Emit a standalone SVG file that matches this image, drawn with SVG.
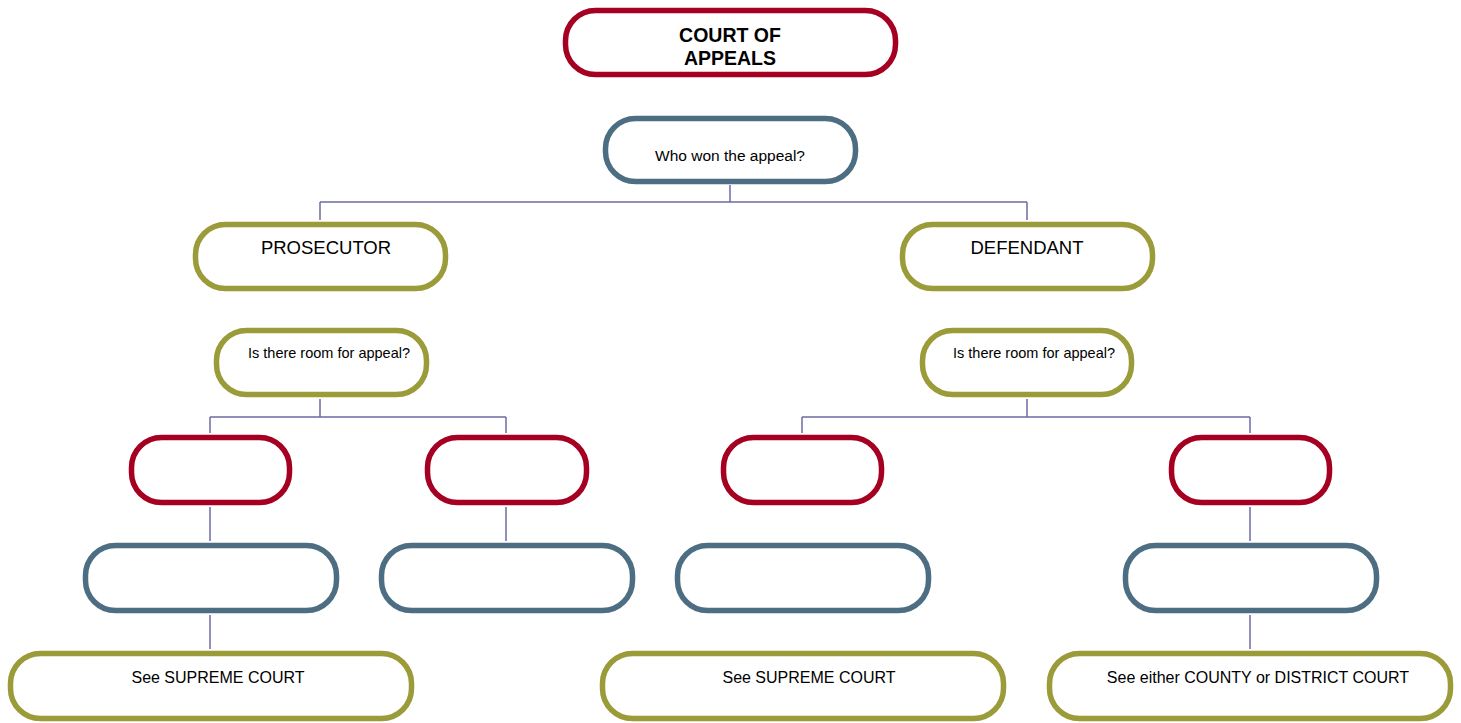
<svg xmlns="http://www.w3.org/2000/svg" width="1461" height="723" viewBox="0 0 1461 723">
<style>
.n{fill:#fff;stroke-width:5.5}
.r{stroke:#a50021}
.b{stroke:#4d6e82}
.o{stroke:#9b9b3a}
.c{fill:none;stroke:#6b6ba3;stroke-width:1.5}
text{font-family:"Liberation Sans",Arial,sans-serif;fill:#000;text-anchor:middle}
.t1{font-size:19.5px;font-weight:bold}
.t2{font-size:15.5px}
.t3{font-size:18.5px}
.t4{font-size:14.5px}
.t5{font-size:16px}
</style>
<rect width="1461" height="723" fill="#fff"/>
<g id="connectors">
<path class="c" d="M730,185V202M320,202H1027M320,202V220M1027,202V220"/>
<path class="c" d="M320,399V417M210,417H506M210,417V433M506,417V433"/>
<path class="c" d="M1027,399V417M802,417H1250M802,417V433M1250,417V433"/>
<path class="c" d="M210,507V541M210,615V649M506,507V541M1250,507V541M1250,615V649"/>
</g>
<g id="court"><rect class="n r" x="565.5" y="10.5" width="330" height="64" rx="30"/><text class="t1" x="730" y="42">COURT OF</text><text class="t1" x="730" y="65">APPEALS</text></g>
<g id="who"><rect class="n b" x="605.5" y="118.5" width="250" height="63" rx="30"/><text class="t2" x="730" y="161">Who won the appeal?</text></g>
<g id="prosecutor"><rect class="n o" x="195.5" y="224.5" width="250" height="64" rx="30"/><text class="t3" x="326" y="254">PROSECUTOR</text></g>
<g id="defendant"><rect class="n o" x="902.5" y="224.5" width="250" height="64" rx="30"/><text class="t3" x="1027" y="254">DEFENDANT</text></g>
<g id="room-left"><rect class="n o" x="216.5" y="330.5" width="210" height="64" rx="30"/><text class="t4" x="329" y="358">Is there room for appeal?</text></g>
<g id="room-right"><rect class="n o" x="922.5" y="330.5" width="209" height="64" rx="30"/><text class="t4" x="1034" y="358">Is there room for appeal?</text></g>
<g id="red1"><rect class="n r" x="131.5" y="437.5" width="158" height="65" rx="30"/></g>
<g id="red2"><rect class="n r" x="427.5" y="437.5" width="159" height="65" rx="30"/></g>
<g id="red3"><rect class="n r" x="723.5" y="437.5" width="158" height="65" rx="30"/></g>
<g id="red4"><rect class="n r" x="1171.5" y="437.5" width="158" height="65" rx="30"/></g>
<g id="blue1"><rect class="n b" x="85.5" y="545.5" width="251" height="65" rx="30"/></g>
<g id="blue2"><rect class="n b" x="381.5" y="545.5" width="251" height="65" rx="30"/></g>
<g id="blue3"><rect class="n b" x="677.5" y="545.5" width="251" height="65" rx="30"/></g>
<g id="blue4"><rect class="n b" x="1125.5" y="545.5" width="251" height="65" rx="30"/></g>
<g id="see1"><rect class="n o" x="10.5" y="653.5" width="401" height="65" rx="30"/><text class="t5" x="218" y="683">See SUPREME COURT</text></g>
<g id="see2"><rect class="n o" x="602.5" y="653.5" width="401" height="65" rx="30"/><text class="t5" x="809" y="683">See SUPREME COURT</text></g>
<g id="see3"><rect class="n o" x="1049.5" y="653.5" width="401" height="65" rx="30"/><text class="t5" x="1258" y="683">See either COUNTY or DISTRICT COURT</text></g>
</svg>
